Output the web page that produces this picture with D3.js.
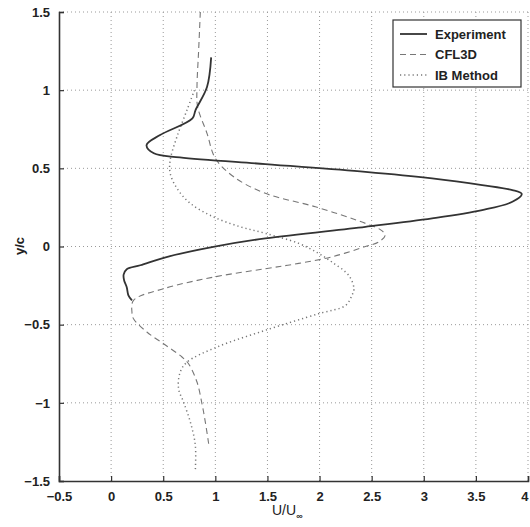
<!DOCTYPE html>
<html><head><meta charset="utf-8">
<script src="https://cdn.jsdelivr.net/npm/d3@7"></script>
<style>body{margin:0;background:#fff}svg{display:block}</style>
</head><body>
<svg id="c" width="530" height="527"></svg>
<script>
const xTicks = [-0.5,0,0.5,1,1.5,2,2.5,3,3.5,4];
const yTicks = [-1.5,-1,-0.5,0,0.5,1,1.5];
const seriesNames = ["Experiment","CFL3D","IB Method"];

const expU = [0.96,0.92,0.81,0.78,0.47,0.34,0.41,0.66,1.48,2.44,3.08,3.56,3.85,3.94,3.85,3.56,3.08,2.44,1.48,0.98,0.54,0.28,0.15,0.12,0.125,0.15,0.166,0.2];
const expY = [1.21,1.02,0.873,0.82,0.713,0.649,0.596,0.57,0.527,0.478,0.436,0.393,0.361,0.336,0.286,0.233,0.18,0.126,0.052,-0.002,-0.066,-0.12,-0.145,-0.18,-0.217,-0.26,-0.313,-0.345];

const cflU = [0.856,0.84,0.824,0.83,0.92,1.0,1.176,1.48,1.96,2.44,2.59,2.63,2.57,2.44,2.12,1.8,1.48,0.98,0.503,0.215,0.2,0.215,0.343,0.503,0.68,0.743,0.824,0.872,0.904,0.936];
const cflY = [1.5,1.257,1.02,0.894,0.724,0.564,0.446,0.34,0.254,0.148,0.105,0.073,0.03,0.0,-0.066,-0.108,-0.142,-0.196,-0.27,-0.345,-0.42,-0.462,-0.547,-0.622,-0.707,-0.75,-0.867,-1.006,-1.123,-1.262];

const ibU = [0.80,0.728,0.632,0.567,0.567,0.632,0.76,0.98,1.24,1.48,1.8,1.99,2.12,2.28,2.33,2.31,2.25,1.99,1.48,1.016,0.728,0.663,0.647,0.695,0.76,0.808,0.808];
const ibY = [1.0,0.873,0.702,0.553,0.468,0.372,0.276,0.19,0.126,0.084,0.02,-0.044,-0.1,-0.185,-0.27,-0.313,-0.377,-0.43,-0.536,-0.643,-0.74,-0.803,-0.91,-0.995,-1.123,-1.27,-1.43];

const svg = d3.select("#c");
const L=59, R=528, T=12, B=481;
const x = d3.scaleLinear().domain([-0.5,4]).range([L,R]);
const y = d3.scaleLinear().domain([-1.5,1.5]).range([B,T]);
const font = "Liberation Sans, Arial, sans-serif";

// grid
const g = svg.append("g");
g.selectAll(".gx").data(xTicks.slice(1)).enter().append("line")
  .attr("x1",d=>x(d)).attr("x2",d=>x(d)).attr("y1",T).attr("y2",B)
  .attr("stroke","#999").attr("stroke-width",1).attr("stroke-dasharray","1,3");
g.selectAll(".gy").data(yTicks.slice(1)).enter().append("line")
  .attr("x1",L).attr("x2",R).attr("y1",d=>y(d)).attr("y2",d=>y(d))
  .attr("stroke","#999").attr("stroke-width",1).attr("stroke-dasharray","1,3");

// axes
const xa = svg.append("g").attr("transform",`translate(0,${B})`)
  .call(d3.axisBottom(x).tickValues(xTicks).tickSize(-5).tickPadding(11).tickFormat(d3.format("")));
const ya = svg.append("g").attr("transform",`translate(${L},0)`)
  .call(d3.axisLeft(y).tickValues(yTicks).tickSize(-5).tickPadding(9).tickFormat(d3.format("")));
[xa,ya].forEach(a=>{
  a.select(".domain").attr("stroke","#333").attr("stroke-width",1.6);
  a.selectAll(".tick line").attr("stroke","#333").attr("stroke-width",1.2);
  a.selectAll("text").attr("fill","#222").style("font-family",font).style("font-size","13px").style("font-weight","bold");
});
xa.selectAll(".tick text").filter(d=>d===4).attr("text-anchor","end").attr("dx","0");

// lines
const line = d3.line().x(d=>x(d[0])).y(d=>y(d[1])).curve(d3.curveCatmullRom.alpha(0.5));
const zip = (a,b)=>a.map((v,i)=>[v,b[i]]);
svg.append("path").datum(zip(cflU,cflY)).attr("d",line).attr("fill","none")
  .attr("stroke","#777").attr("stroke-width",1.1).attr("stroke-dasharray","6,4");
svg.append("path").datum(zip(ibU,ibY)).attr("d",line).attr("fill","none")
  .attr("stroke","#777").attr("stroke-width",1.5).attr("stroke-dasharray","1.2,3");
svg.append("path").datum(zip(expU,expY)).attr("d",line).attr("fill","none")
  .attr("stroke","#333").attr("stroke-width",1.8);

// legend
const lg = svg.append("g");
lg.append("rect").attr("x",393).attr("y",20).attr("width",128).attr("height",67)
  .attr("fill","#fff").attr("stroke","#333").attr("stroke-width",1.2);
const styles=[{c:"#333",w:1.8,d:null},{c:"#777",w:1.1,d:"6,4"},{c:"#777",w:1.5,d:"1.2,3"}];
seriesNames.forEach((n,i)=>{
  const yy = 34+i*20.5;
  const l = lg.append("line").attr("x1",400).attr("x2",427).attr("y1",yy).attr("y2",yy)
    .attr("stroke",styles[i].c).attr("stroke-width",styles[i].w);
  if(styles[i].d) l.attr("stroke-dasharray",styles[i].d);
  lg.append("text").attr("x",435).attr("y",yy+4.5).text(n)
    .style("font-family",font).style("font-size","13px").style("font-weight","bold").attr("fill","#222");
});

// axis labels
svg.append("text").attr("transform","translate(24,246) rotate(-90)").attr("text-anchor","middle")
  .text("y/c").style("font-family",font).style("font-size","13px").style("font-weight","bold").attr("fill","#222");
const xl = svg.append("text").attr("x",272).attr("y",515).style("font-family",font).style("font-size","14px").attr("fill","#222");
xl.append("tspan").text("U/U");
xl.append("tspan").attr("dy",4).style("font-size","9px").style("font-weight","bold").text("∞");
</script>
</body></html>
